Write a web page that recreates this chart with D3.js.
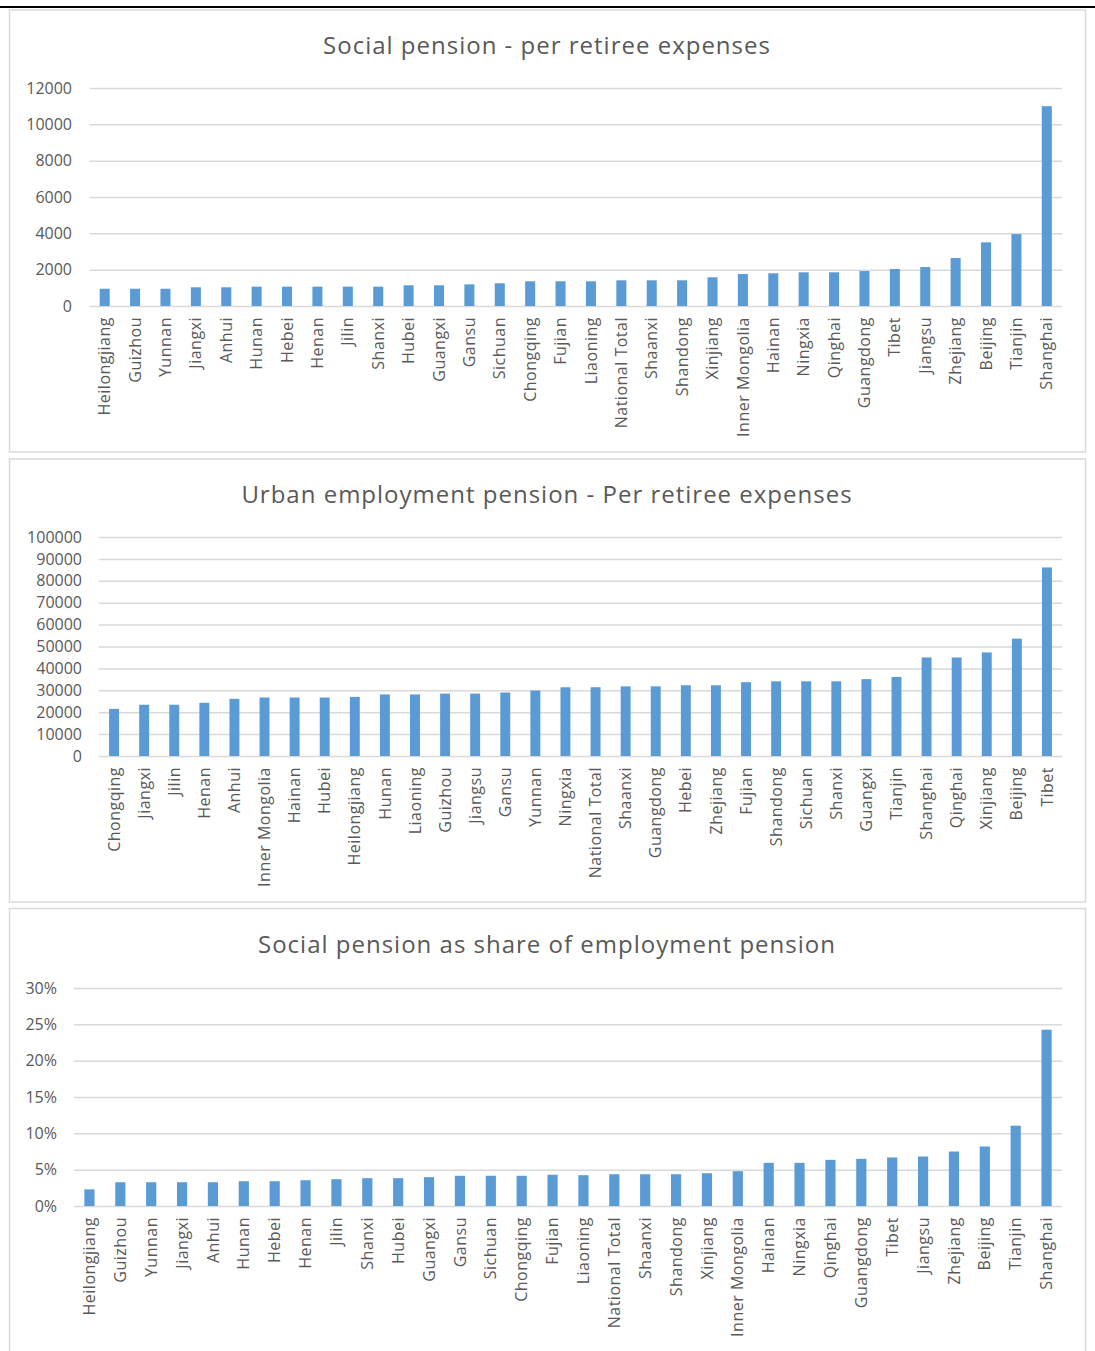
<!DOCTYPE html>
<html>
<head>
<meta charset="utf-8">
<script src="https://cdn.jsdelivr.net/npm/d3@7"></script>
<style>
  body { margin: 0; background: #fff; }
  svg { display: block; font-family: "Open Sans", sans-serif; }
</style>
</head>
<body>
<svg id="chart" width="1095" height="1351"></svg>
<script>
// chart 1 + 3 share this order
const provincesA = ['Heilongjiang', 'Guizhou', 'Yunnan', 'Jiangxi', 'Anhui', 'Hunan', 'Hebei', 'Henan', 'Jilin',
    'Shanxi', 'Hubei', 'Guangxi', 'Gansu', 'Sichuan', 'Chongqing', 'Fujian', 'Liaoning', 'National Total',
    'Shaanxi', 'Shandong', 'Xinjiang', 'Inner Mongolia', 'Hainan', 'Ningxia', 'Qinghai', 'Guangdong', 'Tibet',
    'Jiangsu', 'Zhejiang', 'Beijing', 'Tianjin', 'Shanghai']
const socialPension = [950, 950, 950, 1030, 1030, 1065, 1065, 1065, 1065, 1065, 1140, 1140, 1190, 1250, 1360, 1360,
    1360, 1415, 1415, 1415, 1580, 1760, 1800, 1855, 1855, 1925, 2035, 2145, 2640, 3505, 3960, 11000]

const provincesB = ['Chongqing', 'Jiangxi', 'Jilin', 'Henan', 'Anhui', 'Inner Mongolia', 'Hainan', 'Hubei',
    'Heilongjiang', 'Hunan', 'Liaoning', 'Guizhou', 'Jiangsu', 'Gansu', 'Yunnan', 'Ningxia', 'National Total',
    'Shaanxi', 'Guangdong', 'Hebei', 'Zhejiang', 'Fujian', 'Shandong', 'Sichuan', 'Shanxi', 'Guangxi', 'Tianjin',
    'Shanghai', 'Qinghai', 'Xinjiang', 'Beijing', 'Tibet']
const urbanPension = [21500, 23400, 23400, 24300, 26100, 26700, 26700, 26700, 27000, 28100, 28100, 28500, 28500,
    29000, 29900, 31400, 31400, 31800, 31800, 32300, 32300, 33700, 34100, 34100, 34100, 35100, 36100, 45000,
    45000, 47300, 53600, 86100]

const shareOfEmployment = [0.0229, 0.0327, 0.0327, 0.0327, 0.0327, 0.0341, 0.0341, 0.0355, 0.0369, 0.0383, 0.0383,
    0.0397, 0.0416, 0.0416, 0.0416, 0.043, 0.0424, 0.0437, 0.0437, 0.0437, 0.0451, 0.0479, 0.0594, 0.0594, 0.0635,
    0.0649, 0.0668, 0.0681, 0.075, 0.0819, 0.1105, 0.2426]

const ticks1 = [0, 2000, 4000, 6000, 8000, 10000, 12000]
const ticks2 = [0, 10000, 20000, 30000, 40000, 50000, 60000, 70000, 80000, 90000, 100000]
const ticks3 = [0, 0.05, 0.1, 0.15, 0.2, 0.25, 0.3]

const svg = d3.select('#chart')
const grey = '#595959'
const gridColor = '#d9d9d9'
const barColor = '#5b9bd5'

svg.append('rect').attr('width', 1095).attr('height', 1351).attr('fill', '#fff')
svg.append('line')
    .attr('x1', 0).attr('x2', 1095).attr('y1', 7).attr('y2', 7)
    .attr('stroke', '#000').attr('stroke-width', 2)

const drawChart = (cfg) => {
    const g = svg.append('g')

    g.append('rect')
        .attr('x', 9.5).attr('y', cfg.top)
        .attr('width', 1076).attr('height', cfg.bottom - cfg.top)
        .attr('fill', '#fff')
        .attr('stroke', gridColor).attr('stroke-width', 1.5)

    g.append('text')
        .attr('x', 547).attr('y', cfg.titleY)
        .attr('text-anchor', 'middle')
        .attr('fill', grey)
        .style('font-size', '24px')
        .style('letter-spacing', '1px')
        .text(cfg.title)

    const x = d3.scaleBand()
        .domain(cfg.cats)
        .range([cfg.left, 1062])
        .paddingInner(0.67)
        .paddingOuter(0.335)
    const y = d3.scaleLinear()
        .domain([0, cfg.ticks[cfg.ticks.length - 1]])
        .range([cfg.y0, cfg.yTop])

    const yAxis = d3.axisLeft(y)
        .tickValues(cfg.ticks)
        .tickFormat(cfg.fmt)
        .tickSize(-(1062 - cfg.left))
        .tickPadding(cfg.left - cfg.labelRight)

    g.append('g')
        .attr('transform', `translate(${cfg.left},0)`)
        .call(yAxis)
        .call(a => a.select('.domain').remove())
        .call(a => a.selectAll('line').attr('stroke', gridColor).attr('stroke-width', 1.5))
        .call(a => a.selectAll('text').attr('fill', grey).style('font-size', '16px').style('font-family', '"Open Sans", sans-serif'))

    g.append('g')
        .selectAll('rect')
        .data(cfg.values)
        .join('rect')
        .attr('x', (d, i) => x(cfg.cats[i]))
        .attr('y', d => y(d))
        .attr('width', x.bandwidth())
        .attr('height', d => cfg.y0 - y(d))
        .attr('fill', barColor)

    const xAxis = d3.axisBottom(x).tickSize(0).tickPadding(0)
    g.append('g')
        .attr('transform', `translate(0,${cfg.y0})`)
        .call(xAxis)
        .call(a => a.select('.domain').remove())
        .call(a => a.selectAll('text')
            .attr('transform', 'rotate(-90)')
            .attr('x', -11).attr('y', 0).attr('dy', '0.35em')
            .attr('text-anchor', 'end')
            .attr('fill', grey)
            .style('font-size', '16px')
            .style('letter-spacing', '0.5px')
            .style('font-family', '"Open Sans", sans-serif'))
}

drawChart({
    title: 'Social pension - per retiree expenses',
    top: 10, bottom: 452, titleY: 54,
    cats: provincesA, values: socialPension,
    ticks: ticks1, fmt: d3.format('d'),
    left: 89.5, labelRight: 72, y0: 306, yTop: 88
})

drawChart({
    title: 'Urban employment pension - Per retiree expenses',
    top: 459, bottom: 902, titleY: 503,
    cats: provincesB, values: urbanPension,
    ticks: ticks2, fmt: d3.format('d'),
    left: 99, labelRight: 82, y0: 756, yTop: 537
})

drawChart({
    title: 'Social pension as share of employment pension',
    top: 908.5, bottom: 1360, titleY: 953,
    cats: provincesA, values: shareOfEmployment,
    ticks: ticks3, fmt: d3.format('.0%'),
    left: 74, labelRight: 57, y0: 1206, yTop: 988
})
</script>
</body>
</html>
